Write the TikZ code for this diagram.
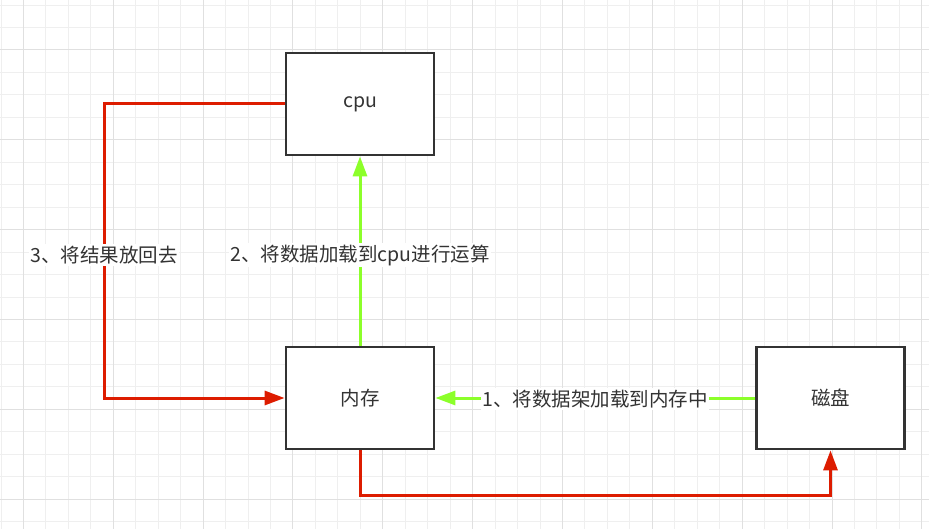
\documentclass[tikz,border=0pt]{standalone}
\usepackage{fontspec}
\setmainfont{Noto Sans CJK SC}
\usepackage{xcolor}
\usetikzlibrary{arrows.meta}
\definecolor{boxgray}{HTML}{333333}
\definecolor{flowred}{HTML}{DD1C00}
\definecolor{flowgreen}{HTML}{8CFF2A}
\definecolor{gridminor}{HTML}{EFEFEF}
\definecolor{gridmajor}{HTML}{E0E0E0}
\tikzset{
    store-box/.style = {draw=boxgray, fill=white, line width=2.8pt, rectangle, minimum width=148pt, minimum height=102pt, text=boxgray, font=\fontsize{19.5}{23}\selectfont},
    flow-label/.style = {fill=white, text=boxgray, inner sep=1.5pt, font=\fontsize{19.5}{23}\selectfont},
    red-flow/.style = {draw=flowred, line width=3pt, -{Triangle[length=20pt,width=14pt]}},
    green-flow/.style = {draw=flowgreen, line width=3pt, -{Triangle[length=20pt,width=14pt]}},
}

\begin{document}
\begin{tikzpicture}[x=1pt,y=-1pt]
\useasboundingbox (0,0) rectangle (929,529);
% grid
\fill[white] (0,0) rectangle (929,529);
\foreach \k in {0,...,41} {
    \draw[gridminor, line width=1pt] ({1+22.46*\k},0) -- ({1+22.46*\k},529);
}
\foreach \k in {-2,...,21} {
    \draw[gridminor, line width=1pt] (0,{50+22.46*\k}) -- (929,{50+22.46*\k});
}
\foreach \k in {0,...,10} {
    \draw[gridmajor, line width=1pt] ({23.46+89.84*\k},0) -- ({23.46+89.84*\k},529);
}
\foreach \k in {-1,...,5} {
    \draw[gridmajor, line width=1pt] (0,{50+89.84*\k}) -- (929,{50+89.84*\k});
}

% boxes
\node[store-box] (cpu) at (360,104) {cpu};
\node[store-box] (mem) at (360,398) {内存};
\node[store-box] (disk) at (830.5,398) {磁盘};
\coordinate (back-corner) at (104,104);

% flows
\draw[green-flow] (disk.west) -- node[flow-label, yshift=-1pt] {1、将数据架加载到内存中} (mem.east);
\draw[green-flow] (mem.north) -- node[flow-label, yshift=-4pt] {2、将数据加载到cpu进行运算} (cpu.south);
\draw[red-flow] (cpu.west) -- (back-corner) -- node[flow-label, yshift=-4pt] {3、将结果放回去} (back-corner |- mem.west) -- (mem.west);
\draw[red-flow] (mem.south) -- ++(0,45) -| (disk.south);
\end{tikzpicture}
\end{document}
